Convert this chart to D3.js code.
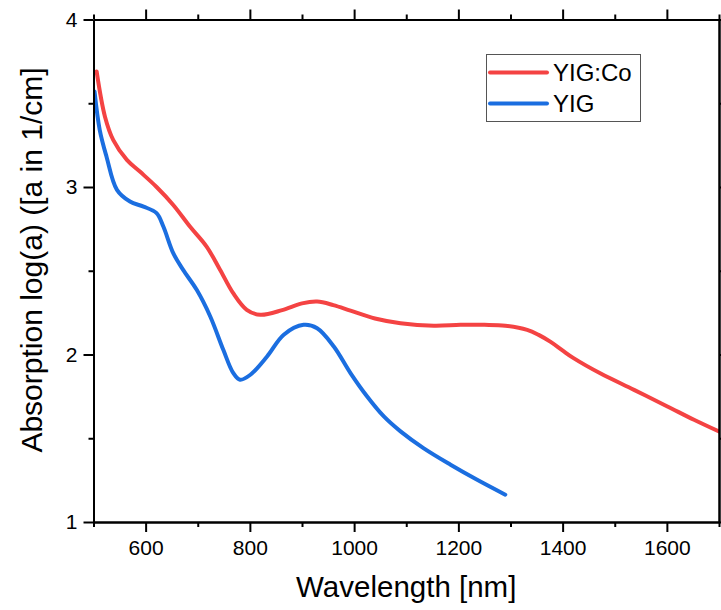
<!DOCTYPE html>
<html>
<head>
<meta charset="utf-8">
<script src="https://cdn.jsdelivr.net/npm/d3@7"></script>
<style>
  html, body { margin: 0; padding: 0; background: #fff; }
  svg { display: block; }
  text { font-family: "Liberation Sans", Arial, sans-serif; fill: #000; }
</style>
</head>
<body>
<svg id="chart" width="721" height="610"></svg>
<script>
// Absorption spectra (log of absorption coefficient, a in 1/cm)
const wavelengthCo = [506, 522, 538, 564, 589, 621, 653, 685, 717, 743, 768, 794, 820, 862, 900, 929, 960, 993, 1040, 1089, 1153, 1204, 1250, 1290, 1332, 1354, 1377, 1399, 1421, 1473, 1537, 1601, 1652, 1700];
const absorbCo     = [3.69, 3.42, 3.28, 3.162, 3.092, 3.0, 2.893, 2.764, 2.644, 2.505, 2.366, 2.267, 2.237, 2.265, 2.305, 2.316, 2.295, 2.262, 2.215, 2.187, 2.172, 2.177, 2.177, 2.172, 2.147, 2.117, 2.075, 2.026, 1.978, 1.886, 1.789, 1.690, 1.610, 1.540];

const wavelengthYig = [502, 512, 525, 545, 570, 596, 621, 634, 653, 672, 698, 724, 749, 768, 781, 801, 833, 865, 903, 929, 961, 993, 1025, 1057, 1089, 1133, 1185, 1236, 1290];
const absorbYig     = [3.57, 3.34, 3.181, 2.983, 2.913, 2.883, 2.844, 2.764, 2.605, 2.505, 2.386, 2.227, 2.028, 1.89, 1.849, 1.879, 1.988, 2.118, 2.177, 2.157, 2.048, 1.889, 1.749, 1.630, 1.541, 1.441, 1.342, 1.252, 1.163];

const seriesNames  = ["YIG:Co", "YIG"];
const seriesColors = ["#f44343", "#1b6ee0"];

const xMajorTicks = [600, 800, 1000, 1200, 1400, 1600];
const xMinorTicks = [500, 700, 900, 1100, 1300, 1500, 1700];
const yMajorTicks = [1, 2, 3, 4];
const yMinorTicks = [1.5, 2.5, 3.5];

const xTitle = "Wavelength [nm]";
const yTitle = "Absorption log(a) ([a in 1/cm]";

const svg = d3.select("#chart");
const plotLeft = 93.5, plotRight = 719, plotTop = 19.5, plotBottom = 522;

const x = d3.scaleLinear().domain([500, 1700]).range([plotLeft, plotRight]);
const y = d3.scaleLinear().domain([1, 4]).range([plotBottom, plotTop]);

const series = [
  { name: seriesNames[0], color: seriesColors[0], data: wavelengthCo.map((w, i) => [w, absorbCo[i]]) },
  { name: seriesNames[1], color: seriesColors[1], data: wavelengthYig.map((w, i) => [w, absorbYig[i]]) }
];

const line = d3.line()
  .x(d => x(d[0]))
  .y(d => y(d[1]))
  .curve(d3.curveCatmullRom.alpha(0.5));

// data lines, clipped to the frame
svg.append("clipPath").attr("id", "plotClip")
  .append("rect").attr("x", plotLeft).attr("y", plotTop)
  .attr("width", plotRight - plotLeft).attr("height", plotBottom - plotTop);

const plot = svg.append("g").attr("clip-path", "url(#plotClip)");
series.forEach(s => {
  plot.append("path")
    .datum(s.data)
    .attr("fill", "none")
    .attr("stroke", s.color)
    .attr("stroke-width", 4)
    .attr("stroke-linecap", "round")
    .attr("stroke-linejoin", "round")
    .attr("d", line);
});

// frame axes: ticks point outward on all four sides
function styleAxis(g) {
  g.selectAll("path.domain").attr("stroke", "#000").attr("stroke-width", 2);
  g.selectAll(".tick line").attr("stroke", "#000").attr("stroke-width", 2);
  g.selectAll(".tick text").style("font-family", "'Liberation Sans', Arial, sans-serif").style("font-size", "21px").attr("fill", "#000");
}

// bottom
svg.append("g").attr("transform", `translate(0,${plotBottom})`)
  .call(d3.axisBottom(x).tickValues(xMinorTicks).tickSize(5).tickSizeOuter(0).tickFormat(""))
  .call(styleAxis);
svg.append("g").attr("transform", `translate(0,${plotBottom})`)
  .call(d3.axisBottom(x).tickValues(xMajorTicks).tickSize(10).tickSizeOuter(0).tickPadding(8).tickFormat(d3.format("d")))
  .call(styleAxis);
// top
svg.append("g").attr("transform", `translate(0,${plotTop})`)
  .call(d3.axisTop(x).tickValues(xMinorTicks).tickSize(5).tickSizeOuter(0).tickFormat(""))
  .call(styleAxis);
svg.append("g").attr("transform", `translate(0,${plotTop})`)
  .call(d3.axisTop(x).tickValues(xMajorTicks).tickSize(10).tickSizeOuter(0).tickFormat(""))
  .call(styleAxis);
// left
svg.append("g").attr("transform", `translate(${plotLeft},0)`)
  .call(d3.axisLeft(y).tickValues(yMinorTicks).tickSize(5).tickSizeOuter(0).tickFormat(""))
  .call(styleAxis);
svg.append("g").attr("transform", `translate(${plotLeft},0)`)
  .call(d3.axisLeft(y).tickValues(yMajorTicks).tickSize(10).tickSizeOuter(0).tickPadding(6).tickFormat(d3.format("d")))
  .call(styleAxis);
// right
svg.append("g").attr("transform", `translate(${plotRight},0)`)
  .call(d3.axisRight(y).tickValues(yMinorTicks).tickSize(5).tickSizeOuter(0).tickFormat(""))
  .call(styleAxis);
svg.append("g").attr("transform", `translate(${plotRight},0)`)
  .call(d3.axisRight(y).tickValues(yMajorTicks).tickSize(10).tickSizeOuter(0).tickFormat(""))
  .call(styleAxis);

// axis titles
svg.append("text")
  .attr("x", (plotLeft + plotRight) / 2)
  .attr("y", 597)
  .attr("text-anchor", "middle")
  .style("font-size", "29.5px")
  .text(xTitle);

svg.append("text")
  .attr("transform", "translate(42,260) rotate(-90)")
  .attr("text-anchor", "middle")
  .style("font-size", "30px")
  .text(yTitle);

// legend
const legend = svg.append("g");
legend.append("rect")
  .attr("x", 486.5).attr("y", 54.5)
  .attr("width", 154).attr("height", 67)
  .attr("fill", "#fff")
  .attr("stroke", "#555")
  .attr("stroke-width", 1);

series.forEach((s, i) => {
  const ly = 72.5 + i * 31;
  legend.append("line")
    .attr("x1", 490).attr("x2", 547)
    .attr("y1", ly).attr("y2", ly)
    .attr("stroke", s.color)
    .attr("stroke-width", 4)
    .attr("stroke-linecap", "round");
  legend.append("text")
    .attr("x", 553)
    .attr("y", ly + 8.5)
    .style("font-size", "24px")
    .text(s.name);
});
</script>
</body>
</html>
